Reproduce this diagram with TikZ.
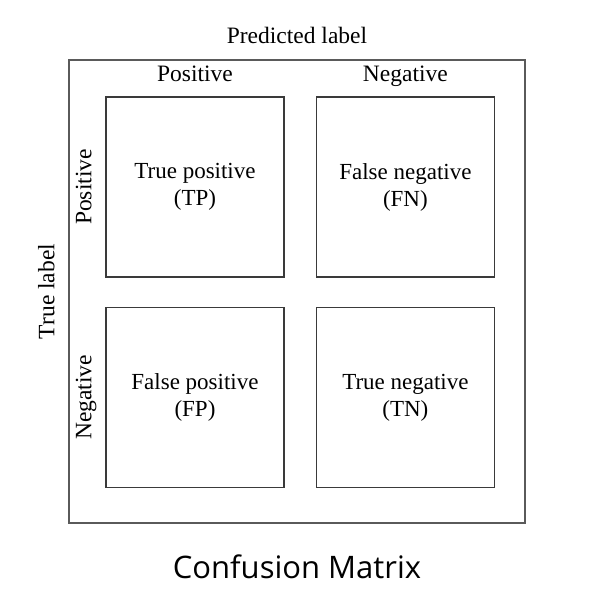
\documentclass[tikz,border=0pt]{standalone}
\usepackage{fontspec}
\setmainfont{Liberation Serif}
\newfontfamily\capfont{Open Sans}
\usetikzlibrary{positioning,calc}
\definecolor{celldraw}{HTML}{3A3A3A}
\definecolor{framedraw}{HTML}{5A5A5A}
\tikzset{
  cell/.style args={#1,#2}{
  draw=celldraw,
  line width=1.4pt,
  align=center,
  minimum width=#1 pt,
  minimum height=#2 pt,
  font=\fontsize{23}{27}\selectfont
  },
  frame/.style args={#1,#2}{
  draw=framedraw,
  line width=1.4pt,
  minimum width=#1 pt,
  minimum height=#2 pt
  },
  lab/.style={font=\fontsize{23.5}{27}\selectfont,inner sep=0pt,anchor=base}
}
\begin{document}
\begin{tikzpicture}[x=1pt,y=1pt]
  \useasboundingbox (0,0) rectangle (595,590);

  \node [frame={456,463}] (frame) at (297,298.5) {};

  \node [cell={178,180}] (tp) at (195,403) {True positive\\(TP)};
  \node [cell={178,180},right=31pt of tp] (fn) {False negative\\(FN)};
  \node [cell={178,180},below=29pt of tp] (fp) {False positive\\(FP)};
  \node [cell={178,180},right=31pt of fp] (tn) {True negative\\(TN)};

  \node [lab] (ppos) at ($(tp.north)+(0,15pt)$) {Positive};
  \node [lab] (pneg) at ($(fn.north)+(0,15pt)$) {Negative};
  \node [lab] (pred) at ($(frame.north)+(0,16pt)$) {Predicted label};

  \node [lab,rotate=90] (tpos) at ($(tp.west)+(-14pt,0)$) {Positive};
  \node [lab,rotate=90] (tneg) at ($(fp.west)+(-14pt,0)$) {Negative};
  \node [lab,rotate=90] (truel) at ($(frame.west)+(-14pt,0)$) {True label};

  \node [font=\capfont\fontsize{31}{36}\selectfont,below=28pt of frame] (title) {Confusion Matrix};
\end{tikzpicture}
\end{document}
